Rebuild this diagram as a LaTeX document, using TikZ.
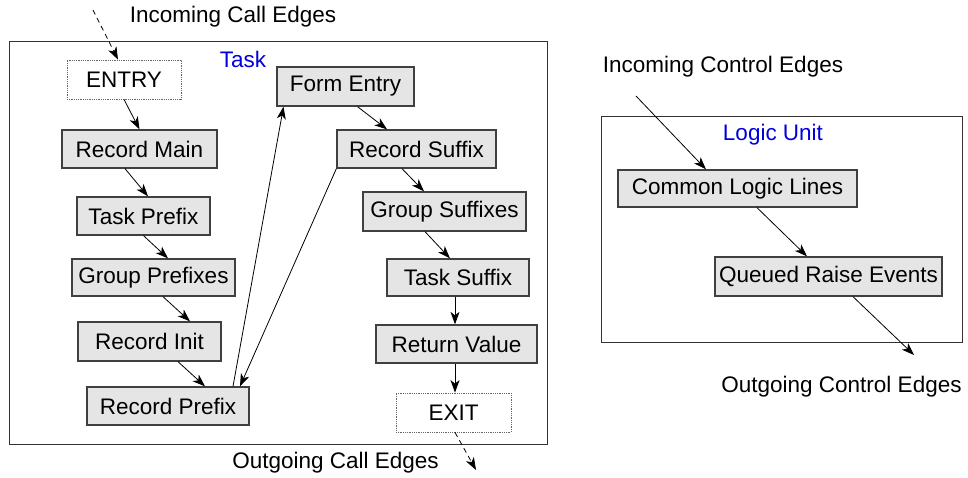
\documentclass[tikz,border=0pt]{standalone}
\usepackage{fontspec}
\setmainfont{Liberation Sans}
\usepackage{tikz}
\usetikzlibrary{arrows.meta}
\definecolor{labelblue}{RGB}{0,0,220}
\tikzstyle{box} = [draw=black!75, fill=black!10, line width=1.3pt, inner sep=0pt, minimum height=38pt]
\tikzstyle{port} = [draw=black!60, densely dotted, line width=0.8pt, inner sep=0pt, minimum height=39pt]
\tikzstyle{edge} = [->, draw, line width=0.8pt]
\tikzstyle{callEdge} = [->, draw, line width=0.8pt, dash pattern=on 5pt off 4pt]

\begin{document}
\begin{tikzpicture}[x=1pt,y=-1pt,>={Stealth[length=12.5pt,width=9pt,inset=3.5pt]},font=\fontsize{22.5}{27}\selectfont]
	\useasboundingbox (0,0) rectangle (968,477);
	\draw[draw=black!80,line width=1pt] (9,41) rectangle (547,444); % task
	\draw[draw=black!80,line width=1pt] (601,116) rectangle (962,342); % logic unit
	\node (inCall) at (233,17) {Incoming Call Edges};
	\node[text=labelblue] (taskLabel) at (243,59) {Task};
	\node (outCall) at (335.5,463) {Outgoing Call Edges};
	\node (inCtrl) at (723,67) {Incoming Control Edges};
	\node[text=labelblue] (logicLabel) at (773,135) {Logic Unit};
	\node (outCtrl) at (841.5,387) {Outgoing Control Edges};
	\coordinate (callStart) at (93,10);
	\coordinate (callEnd) at (476,470);
	\coordinate (ctrlStart) at (636,96);
	\coordinate (ctrlEnd) at (914,355);
	% prefix column
	\node[port,minimum width=114pt] (entry) at (124,79.5) {ENTRY};
	\node[box,minimum width=155pt] (recMain) at (139.5,149) {Record Main};
	\node[box,minimum width=133pt] (taskPre) at (143.5,216) {Task Prefix};
	\node[box,minimum width=163pt,minimum height=37pt] (groupPre) at (153.5,277.5) {Group Prefixes};
	\node[box,minimum width=143pt,minimum height=39pt] (recInit) at (149.5,341.5) {Record Init};
	\node[box,minimum width=162pt] (recPre) at (168,406) {Record Prefix};
	% suffix column
	\node[box,minimum width=137pt,minimum height=39pt] (formEntry) at (345.5,86.5) {Form Entry};
	\node[box,minimum width=159pt] (recSuf) at (416.5,149) {Record Suffix};
	\node[box,minimum width=163pt,minimum height=39pt] (groupSuf) at (444.5,211.5) {Group Suffixes};
	\node[box,minimum width=142pt,minimum height=37pt] (taskSuf) at (458,277.5) {Task Suffix};
	\node[box,minimum width=161pt] (retVal) at (456.5,344) {Return Value};
	\node[port,minimum width=115pt] (exit) at (453.5,412.5) {EXIT};
	% logic unit
	\node[box,minimum width=239pt,minimum height=37pt] (logicLines) at (737.5,188.5) {Common Logic Lines};
	\node[box,minimum width=227pt,minimum height=39pt] (raiseEvents) at (828.5,276.5) {Queued Raise Events};
	\path[callEdge] (callStart) -- ([xshift=-6pt]entry.north);
	\path[edge] (entry.south) -- (recMain.north);
	\path[edge] ([xshift=-14.5pt]recMain.south) -- ([xshift=4.5pt]taskPre.north);
	\path[edge] (taskPre.south) -- ([xshift=14.5pt]groupPre.north);
	\path[edge] ([xshift=9.5pt]groupPre.south) -- ([xshift=40.5pt]recInit.north);
	\path[edge] ([xshift=28.5pt]recInit.south) -- ([xshift=37pt]recPre.north);
	\path[edge] ([xshift=65pt]recPre.north) -- ([xshift=-62pt]formEntry.south);
	\path[edge] ([xshift=12pt]formEntry.south) -- ([xshift=-29.5pt]recSuf.north);
	\path[edge] (recSuf.south west) -- ([xshift=72pt]recPre.north);
	\path[edge] ([xshift=-14.5pt]recSuf.south) -- ([xshift=-20.5pt]groupSuf.north);
	\path[edge] ([xshift=-19.5pt]groupSuf.south) -- ([xshift=-8pt]taskSuf.north);
	\path[edge] ([xshift=-3pt]taskSuf.south) -- ([xshift=-1.5pt]retVal.north);
	\path[edge] ([xshift=-1.5pt]retVal.south) -- ([xshift=1.5pt]exit.north);
	\path[callEdge] ([xshift=1.5pt]exit.south) -- (callEnd);
	\path[edge] (ctrlStart) -- ([xshift=-31.5pt]logicLines.north);
	\path[edge] ([xshift=19.5pt]logicLines.south) -- ([xshift=-21.5pt]raiseEvents.north);
	\path[edge] ([xshift=24.5pt]raiseEvents.south) -- (ctrlEnd);
\end{tikzpicture}
\end{document}
